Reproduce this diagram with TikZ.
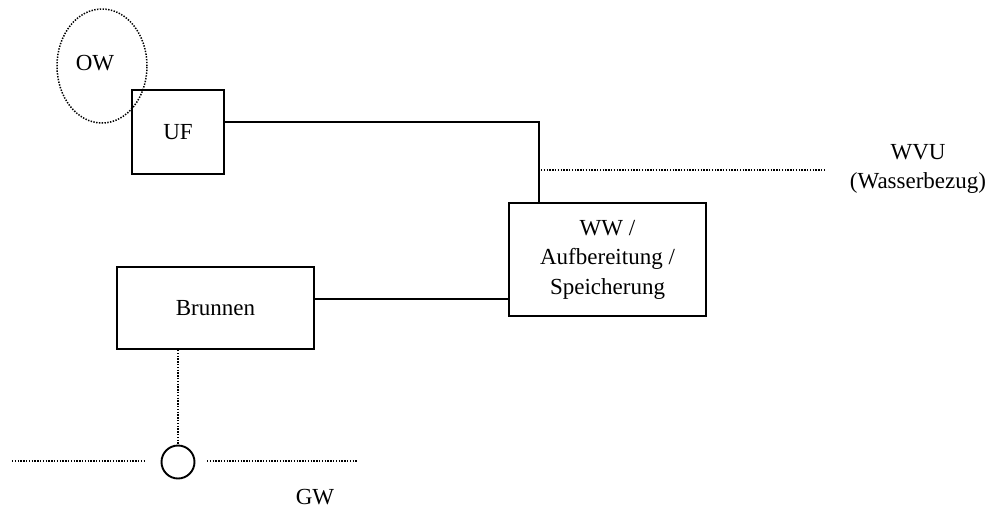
\documentclass[tikz,border=0pt]{standalone}
\usepackage{fontspec}
\setmainfont{Liberation Serif}
\usetikzlibrary{shapes.geometric,calc}
\begin{document}
\begin{tikzpicture}[x=1pt,y=-1pt,
  every node/.style={font=\fontsize{23}{29.5}\selectfont},
  box/.style={draw,line width=1.9pt,inner sep=0pt,align=center},
  dots/.style={line width=1.5pt,dash pattern=on 1.4pt off 1.4pt},
  conn/.style={line width=1.9pt}]
\useasboundingbox (0,0) rectangle (992,509);
\node[draw,ellipse,dots,minimum width=90pt,minimum height=114pt,inner sep=0pt] (ow) at (102,66) {};
\node (owt) at (95,63) {OW};
\node[box,minimum width=92pt,minimum height=84pt] (uf) at (178,132) {UF};
\node[box,minimum width=197pt,minimum height=113pt] (ww) at (607.5,259.5) {WW /\\Aufbereitung /\\Speicherung};
\node[box,minimum width=197pt,minimum height=82pt] (br) at (215.5,308) {Brunnen};
\node[draw,circle,line width=1.9pt,minimum size=33pt,inner sep=0pt] (well) at (178,462) {};
\node[align=center] (wvu) at (918,169) {WVU\\(Wasserbezug)};
\node (gw) at (315,497) {GW};
\coordinate (bend) at (539,122);
\coordinate (wvus) at (541,170);
\coordinate (wvue) at (825,170);
\coordinate (gwl1) at (12,461);
\coordinate (gwl2) at (146,461);
\coordinate (gwr1) at (207,461);
\coordinate (gwr2) at (358,461);
\draw[conn] (uf.east |- bend) -- (bend) -- (bend |- ww.north);
\draw[conn] ([yshift=9pt]br.east) -- ([yshift=9pt]br.east -| ww.west);
\draw[dots] (wvus) -- (wvue);
\draw[dots] (well.north |- br.south) -- (well.north);
\draw[dots] (gwl1) -- (gwl2);
\draw[dots] (gwr1) -- (gwr2);
\end{tikzpicture}
\end{document}
